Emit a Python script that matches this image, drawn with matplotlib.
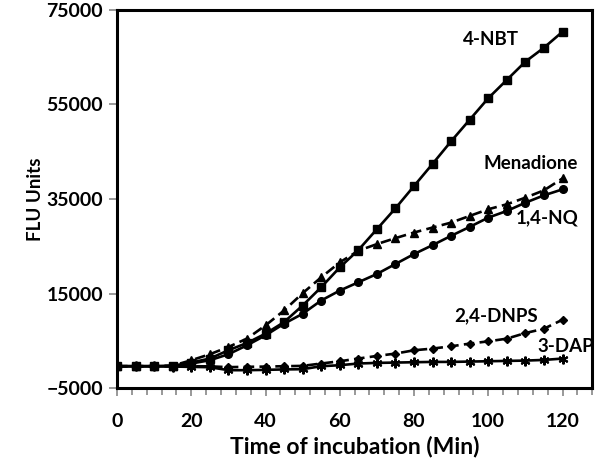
import matplotlib
matplotlib.use("Agg")
import matplotlib.pyplot as plt
import numpy as np

plt.rcParams['font.family'] = ['Lato', 'DejaVu Sans']
plt.rcParams['font.weight'] = 'bold'

# time points (min)
time_min = list(range(0, 125, 5))

nbt_4 = [-370, -370, -370, -300, 410, 1250, 3000, 4540, 6510, 8960, 12470, 16330,
         20530, 24190, 28610, 33030, 37740, 42430, 47210, 51770, 56320, 60190,
         64050, 67000, 70370]
menadione = [-370, -370, -370, -250, 890, 2160, 3700, 5460, 8260, 11420, 15070, 18430,
             21590, 24050, 25460, 26720, 27910, 28960, 30010, 31420, 32830, 33880,
             35280, 36830, 39350]
nq_14 = [-370, -370, -370, -300, 200, 890, 2160, 4050, 6160, 8620, 10720, 13530,
         15630, 17380, 19140, 21250, 23350, 25240, 27210, 29100, 31060, 32470,
         34220, 35770, 37040]
dnps_24 = [-370, -370, -370, -370, -370, -400, -570, -500, -450, -370, -300, 200,
           680, 1250, 1800, 2300, 3000, 3360, 3840, 4410, 4890, 5460, 6640, 7560, 9460]
dap_3 = [-370, -370, -370, -440, -510, -580, -1210, -1210, -1140, -1050, -1000, -370,
         -160, 200, 332, 400, 473, 540, 540, 613, 680, 753, 820, 960, 1245]

labels = ["4-NBT", "Menadione", "1,4-NQ", "2,4-DNPS", "3-DAP"]

fig = plt.figure(figsize=(6, 4.71), dpi=100)
ax = fig.add_axes([0.195, 0.176, 0.792, 0.803])

lw = 1.9
ax.plot(time_min, nbt_4, '-', color='black', lw=lw, marker='s', ms=5.5)
ax.plot(time_min, menadione, '--', color='black', lw=lw, marker='^', ms=5.5, dashes=(4, 2))
ax.plot(time_min, nq_14, '-', color='black', lw=lw, marker='o', ms=5.5)
ax.plot(time_min, dnps_24, '--', color='black', lw=lw, marker='D', ms=4.5, dashes=(4, 2))
ax.plot(time_min, dap_3, '-', color='black', lw=lw, marker=(6, 2, 0), ms=7, mew=1.5)

# series labels
label_pos = [(100.8, 68700), (111.4, 42600), (116, 31000), (102.2, 10200), (120.8, 3850)]
for lab, (x, y) in zip(labels, label_pos):
    ax.text(x, y, lab, ha='center', va='center', fontsize=13.5, fontweight='bold')

ax.set_xlim(0, 128)
ax.set_ylim(-5000, 75000)
ax.set_xticks(np.arange(0, 121, 20))
ax.set_xticks(np.arange(0, 129, 4), minor=True)
ax.set_yticks([-5000, 15000, 35000, 55000, 75000])

for s in ax.spines.values():
    s.set_linewidth(2.2)
    s.set_color('black')

ax.tick_params(axis='both', which='both', direction='out', color='#888888', width=1.2)
ax.tick_params(axis='x', which='major', length=6, pad=12, labelsize=14)
ax.tick_params(axis='x', which='minor', length=5)
ax.tick_params(axis='y', which='major', length=6, pad=4, labelsize=14)

ax.set_xlabel("Time of incubation (Min)", fontsize=16.5, fontweight='bold', labelpad=4)
ax.set_ylabel("FLU Units", fontsize=13.5, fontweight='bold', labelpad=2)

fig.savefig("out.png", dpi=100)
